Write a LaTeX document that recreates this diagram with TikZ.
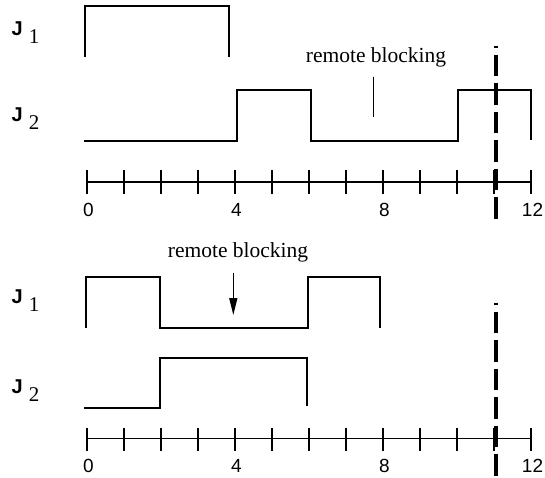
\documentclass[tikz,border=0pt]{standalone}
\usepackage{fontspec}
\setmainfont{Liberation Serif}
\setsansfont{Liberation Sans}
\usetikzlibrary{arrows.meta}

% job name: bold sans J followed by a lowered serif index
\newcommand\joblabel[1]{{\sffamily\bfseries\fontsize{20}{22}\selectfont J}\hspace{6pt}\raisebox{-8pt}{\fontsize{21}{23}\selectfont #1}}

\tikzset{
  signal/.style={line width=2pt, line join=miter, line cap=butt},
  axisline/.style={line width=1.8pt},
  tickmark/.style={line width=1.8pt},
  deadline/.style={line width=4.5pt, dash pattern=on 21.5pt off 7pt, dash phase=19.5pt},
  numlabel/.style={font=\sffamily\fontsize{19}{21}\selectfont, inner sep=0pt},
  notelabel/.style={font=\fontsize{21.5}{24}\selectfont, inner sep=0pt, anchor=base},
  joblbl/.style={anchor=base west, inner sep=0pt},
}

\begin{document}
\begin{tikzpicture}[x=1pt,y=-1pt]
\useasboundingbox (0,0) rectangle (545,478);

% ---------- upper schedule ----------
\node[joblbl] (uj1) at (11.5,36) {\joblabel{1}};
\node[joblbl] (uj2) at (11.5,122) {\joblabel{2}};

% J1 executes from 0 to 4
\draw[signal] (84.5,57) -- (84.5,6) -- (229,6) -- (229,57);
% J2 executes 4-6 and 10-12, blocked in between
\draw[signal] (84,141.5) -- (237,141.5) -- (237,90.5) -- (311,90.5) -- (311,141.5)
  -- (458,141.5) -- (458,90.5) -- (531,90.5) -- (531,140);

\node[notelabel] (unote) at (376,63) {remote blocking};
\coordinate (umarkA) at (373.3,76.7);
\coordinate (umarkB) at (373.3,117.3);
\draw[line width=1.4pt] (umarkA) -- (umarkB);

% time axis
\coordinate (uax0) at (87,182);
\coordinate (uax12) at (531,182);
\draw[axisline] (uax0) -- (uax12);
\foreach \k in {0,...,12}
  \draw[tickmark] ({87+37*\k},170) -- ({87+37*\k},194);
\foreach \k in {0,4,8,12}
  \node[numlabel] (ulab\k) at ({88.5+37*\k},210) {\k};

% deadline
\coordinate (udlA) at (496,46);
\coordinate (udlB) at (496,221);
\draw[deadline] (udlA) -- (udlB);

% ---------- lower schedule ----------
\node[joblbl] (lj1) at (11.5,303) {\joblabel{1}};
\node[joblbl] (lj2) at (11.5,393) {\joblabel{2}};

% J1 executes 0-2 and 6-8, blocked in between
\draw[signal] (86,328) -- (86,276.7) -- (159.5,276.7) -- (159.5,327.7) -- (308,327.7)
  -- (308,276.7) -- (380,276.7) -- (380,328);
% J2 executes from 2 to 6
\draw[signal] (84,408.3) -- (160,408.3) -- (160,358.3) -- (306.7,358.3) -- (306.7,406);

\node[notelabel] (lnote) at (238,257) {remote blocking};
\coordinate (larrA) at (233.3,272.7);
\coordinate (larrB) at (233.3,315);
\draw[line width=1.4pt, -{Triangle[length=17pt,width=8pt]}] (larrA) -- (larrB);

% time axis
\coordinate (lax0) at (87,438.5);
\coordinate (lax12) at (531,438.5);
\draw[axisline] (lax0) -- (lax12);
\foreach \k in {0,...,12}
  \draw[tickmark] ({87+37*\k},427.5) -- ({87+37*\k},450.5);
\foreach \k in {0,4,8,12}
  \node[numlabel] (llab\k) at ({88.5+37*\k},466) {\k};

% deadline
\coordinate (ldlA) at (496,302.7);
\coordinate (ldlB) at (496,476);
\draw[deadline] (ldlA) -- (ldlB);
\end{tikzpicture}
\end{document}
